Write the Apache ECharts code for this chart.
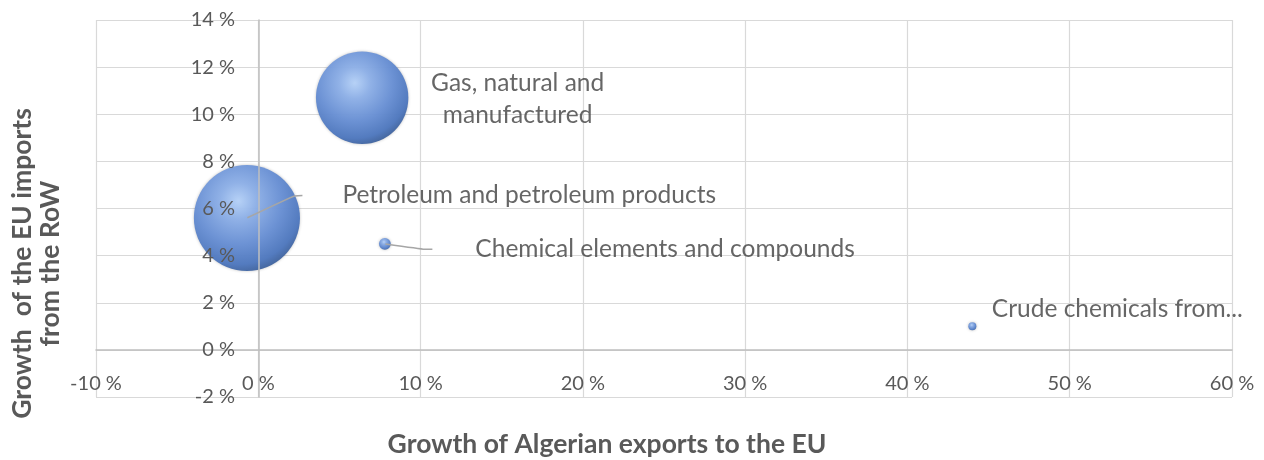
<!DOCTYPE html>
<html>
<head>
<meta charset="utf-8">
<script src="https://cdn.jsdelivr.net/npm/echarts@6/dist/echarts.min.js"></script>
<style>
  html, body { margin: 0; padding: 0; background: #ffffff; }
  #chart { width: 1264px; height: 460px; }
</style>
</head>
<body>
<div id="chart"></div>
<script>
// ---- data ----
const productNames = [
  'Petroleum and petroleum products',
  'Gas, natural and\nmanufactured',
  'Chemical elements and compounds',
  'Crude chemicals from...'
];
const exportGrowth = [-0.7, 6.4, 7.8, 44.0];   // x, %
const importGrowth = [5.6, 10.7, 4.5, 1.0];    // y, %
const exportValue  = [11.2, 8.5, 0.14, 0.064]; // bubble size
const xTicks = { min: -10, max: 60, step: 10 };
const yTicks = { min: -2, max: 14, step: 2 };

// ---- styling (not data) ----
const FONT = 'Lato';
const GREY = '#595959';
const labelStyles = [
  { position: [56, -22], align: 'left', verticalAlign: 'middle', padding: [0, 0, 0, 40], line: true },
  { position: [156, 2], align: 'center', verticalAlign: 'middle', padding: 0, line: false, lineHeight: 32 },
  { position: [48, 6], align: 'left', verticalAlign: 'middle', padding: [0, 0, 0, 43], line: true },
  { position: [20, -17], align: 'left', verticalAlign: 'middle', padding: 0, line: false }
];

const sphere = {
  type: 'radial', x: 0.42, y: 0.34, r: 0.68,
  colorStops: [
    { offset: 0, color: '#b6d2f8' },
    { offset: 0.25, color: '#8fb1e8' },
    { offset: 0.6, color: '#6a91d5' },
    { offset: 0.88, color: '#5079bf' },
    { offset: 1, color: '#42659f' }
  ]
};

const bubbleData = exportGrowth.map((x, i) => [x, importGrowth[i], exportValue[i]]);
const labelData = exportGrowth.map((x, i) => {
  const s = labelStyles[i];
  return {
    value: [x, importGrowth[i]],
    name: productNames[i],
    label: {
      show: true,
      position: s.position,
      align: s.align,
      verticalAlign: s.verticalAlign,
      padding: s.padding,
      lineHeight: s.lineHeight || 28
    },
    labelLine: { show: s.line }
  };
});

const gridLine = { show: true, lineStyle: { color: '#d9d9d9', width: 1.2 } };
const zeroLine = { show: true, onZero: true, lineStyle: { color: '#bfbfbf', width: 1.5 } };

const chart = echarts.init(document.getElementById('chart'), null, { renderer: 'canvas' });
chart.setOption({
  backgroundColor: '#ffffff',
  animation: false,
  textStyle: { fontFamily: FONT },
  grid: { left: 96, right: 32, top: 20, bottom: 63, containLabel: false, outerBoundsMode: 'none' },
  xAxis: [
    { // gridlines (below the bubbles)
      type: 'value', min: xTicks.min, max: xTicks.max, interval: xTicks.step,
      position: 'bottom',
      axisLine: { show: false }, axisTick: { show: false }, axisLabel: { show: false },
      splitLine: gridLine, z: 0
    },
    { // axis line, labels, name (above the bubbles)
      type: 'value', min: xTicks.min, max: xTicks.max, interval: xTicks.step,
      position: 'bottom',
      axisLine: zeroLine,
      axisTick: { show: false },
      axisLabel: { formatter: '{value} %', color: GREY, fontSize: 20, fontFamily: FONT, margin: -23 },
      splitLine: { show: false },
      name: 'Growth of Algerian exports to the EU',
      nameLocation: 'middle',
      nameGap: 34,
      nameTextStyle: { color: GREY, fontSize: 26.5, fontWeight: 'bold', fontFamily: FONT, padding: [0, 114, 0, 0] },
      z: 5
    }
  ],
  yAxis: [
    {
      type: 'value', min: yTicks.min, max: yTicks.max, interval: yTicks.step,
      position: 'left',
      axisLine: { show: false }, axisTick: { show: false }, axisLabel: { show: false },
      splitLine: gridLine, z: 0
    },
    {
      type: 'value', min: yTicks.min, max: yTicks.max, interval: yTicks.step,
      position: 'left',
      axisLine: zeroLine,
      axisTick: { show: false },
      axisLabel: { formatter: '{value} %', color: GREY, fontSize: 20, fontFamily: FONT, margin: -139 },
      splitLine: { show: false },
      name: 'Growth  of the EU imports\nfrom the RoW',
      nameLocation: 'middle',
      nameRotate: 90,
      nameGap: 32,
      nameTextStyle: { color: GREY, fontSize: 26.5, fontWeight: 'bold', fontFamily: FONT, lineHeight: 28, padding: [0, 110, 0, 0] },
      z: 5
    }
  ],
  series: [
    {
      type: 'scatter',
      name: 'bubbles',
      xAxisIndex: 0, yAxisIndex: 0,
      data: bubbleData,
      symbolSize: v => Math.sqrt(v[2]) * 31.7,
      itemStyle: { color: sphere, opacity: 0.97, shadowBlur: 3, shadowColor: 'rgba(0,0,0,0.25)' },
      silent: true,
      z: 2
    },
    {
      type: 'scatter',
      name: 'labels',
      xAxisIndex: 0, yAxisIndex: 0,
      data: labelData,
      symbolSize: 1,
      itemStyle: { color: 'rgba(0,0,0,0)' },
      label: { show: true, formatter: p => p.name, color: '#404040', fontSize: 24.5, fontFamily: FONT },
      labelLine: { show: true, length2: 8, smooth: 0.3, lineStyle: { color: '#a6a6a6', width: 1.5 } },
      silent: true,
      z: 6
    }
  ]
});
</script>
</body>
</html>
